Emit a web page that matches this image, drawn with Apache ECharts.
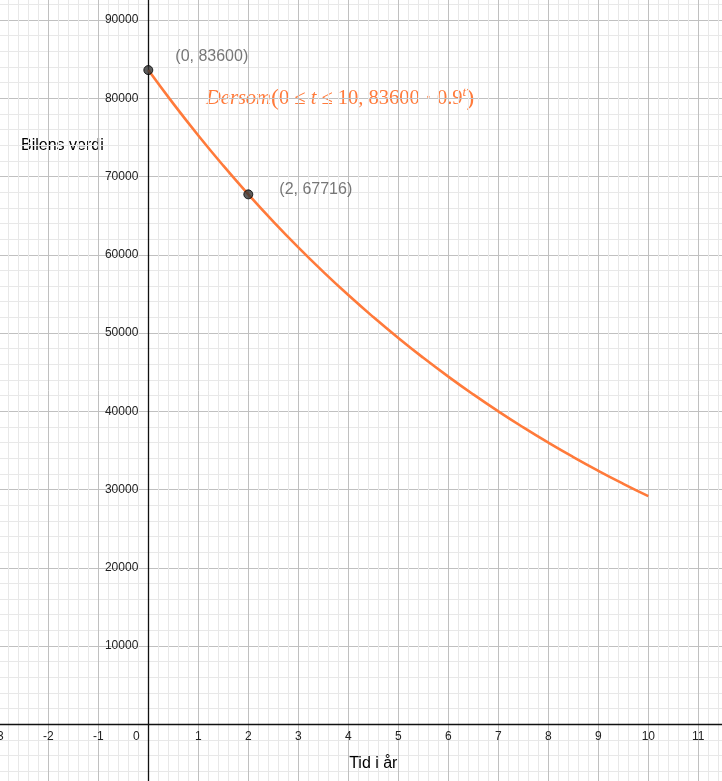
<!DOCTYPE html>
<html><head><meta charset="utf-8">
<script src="https://cdn.jsdelivr.net/npm/echarts@6/dist/echarts.min.js"></script>
<style>html,body{margin:0;padding:0;background:#fff}#c{width:722px;height:781px}</style>
</head><body><div id="c"></div>
<script>
// Curve: Dersom(0 ≤ t ≤ 10, 83600 · 0.9^t) — values read at half-year steps
const curveT = [0, 0.5, 1, 1.5, 2, 2.5, 3, 3.5, 4, 4.5, 5, 5.5, 6, 6.5, 7, 7.5, 8, 8.5, 9, 9.5, 10];
const curveValue = [83600, 79309.9, 75240, 71378.9, 67716, 64241.0, 60944.4, 57816.9, 54850.0, 52035.3,
  49365.0, 46831.7, 44428.5, 42148.6, 39985.6, 37933.6, 35987.1, 34140.3, 32388.4, 30726.3, 29149.5];
// Marked points
const pointT = [0, 2];
const pointValue = [83600, 67716];
// Axis ranges / tick steps
const xRange = [-3, 12];
const xStep = 1;
const yRange = [-10000, 100000];
const yStep = 10000;
// Texts
const xName = 'Tid i år';
const yName = 'Bilens verdi';

const ORANGE = '#FF7A3A';
const labelOffsets = [[22, -13], [26, -5]];

// layout (pixels)
const G = {left: -1.7, top: -58.25, width: 750, height: 860.75};
const xZeroOffset = -(0 - xRange[0]) / (xRange[1] - xRange[0]) * G.width;       // move y axis to x=0
const yZeroOffset = -(0 - yRange[0]) / (yRange[1] - yRange[0]) * G.height;      // move x axis to y=0

const chart = echarts.init(document.getElementById('c'), null, {renderer: 'canvas'});
const font = 'Liberation Sans, Arial, sans-serif';

const axisCommon = {
  type: 'value',
  axisLine: {show: true, onZero: false, lineStyle: {color: '#111', width: 1.3}},
  axisTick: {show: false},
  splitLine: {show: true, lineStyle: {color: '#c0c0c0', width: 1}},
  minorTick: {show: false, splitNumber: 5},
  minorSplitLine: {show: true, lineStyle: {color: '#e8e8e8', width: 1}},
};

chart.setOption({
  animation: false,
  backgroundColor: '#fff',
  grid: Object.assign({outerBoundsMode: 'none', containLabel: false}, G),
  xAxis: Object.assign({}, axisCommon, {
    position: 'bottom', offset: yZeroOffset,
    min: xRange[0], max: xRange[1], interval: xStep,
    name: xName, nameLocation: 'middle', nameGap: 31,
    nameTextStyle: {color: '#000', fontSize: 16, fontFamily: font},
    axisLabel: {
      color: '#222', fontSize: 12, fontFamily: font, margin: 6,
      formatter: v => v === 0 ? '{z|0}' : String(v),
      rich: {z: {color: '#222', fontSize: 12, fontFamily: font, padding: [0, 24, 0, 0]}}
    }
  }),
  yAxis: Object.assign({}, axisCommon, {
    position: 'left', offset: xZeroOffset,
    min: yRange[0], max: yRange[1], interval: yStep,
    axisLabel: {
      color: '#222', fontSize: 12, fontFamily: font, margin: 10,
      formatter: v => v === 0 ? '' : String(v)
    }
  }),
  graphic: [
    {type: 'text', x: 21, y: 146, style: {text: yName, fill: '#000', fontSize: 16, fontFamily: font, verticalAlign: 'middle', align: 'left'}},
    {type: 'text', x: 206, y: 99, style: {
      text: '{it|Dersom}{p|(}{n|0 ≤ }{it|t}{n| ≤ 10, 83600 · 0.9}{sup|t}{p|)}',
      verticalAlign: 'middle', align: 'left',
      rich: {
        it: {fill: ORANGE, fontSize: 20.5, fontStyle: 'italic', fontFamily: 'Liberation Serif, serif', lineHeight: 26},
        n: {fill: ORANGE, fontSize: 20.5, fontFamily: 'Liberation Serif, serif', lineHeight: 26},
        p: {fill: ORANGE, fontSize: 24, fontFamily: 'Liberation Serif, serif', lineHeight: 26},
        sup: {fill: ORANGE, fontSize: 13, fontStyle: 'italic', fontFamily: 'Liberation Serif, serif', verticalAlign: 'top', lineHeight: 13}
      }
    }}
  ],
  series: [
    {
      type: 'line',
      data: curveT.map((t, i) => [t, curveValue[i]]),
      smooth: true,
      showSymbol: false,
      lineStyle: {color: ORANGE, width: 2.6},
      z: 3
    },
    {
      type: 'scatter',
      data: pointT.map((t, i) => ({
        value: [t, pointValue[i]],
        label: {offset: [0, labelOffsets[i][1]], distance: labelOffsets[i][0]}
      })),
      symbolSize: 9,
      itemStyle: {color: '#333', borderColor: '#000', borderWidth: 1},
      label: {
        show: true, position: 'right', color: '#555', fontSize: 16, fontFamily: font,
        formatter: p => '(' + p.value[0] + ', ' + p.value[1] + ')'
      },
      z: 5
    }
  ]
});
</script>
</body></html>
